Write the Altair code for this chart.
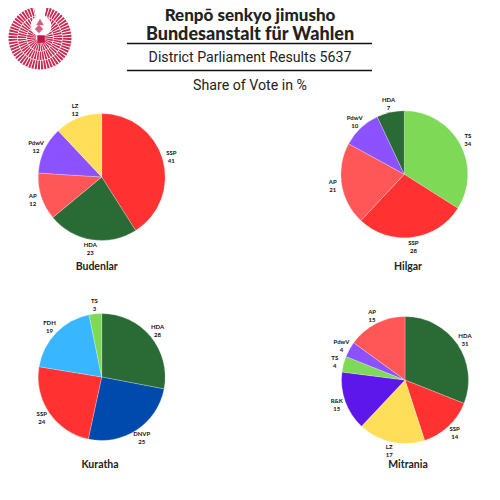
import altair as alt
import pandas as pd

PAD = 8
FONT = "Lato"
INK = "#222222"
CRIMSON = "#c92a52"

COLOURS = {"HDA": "#2a6b35", "SSP": "#ff3131", "AP": "#ff5757", "PdwV": "#8c52ff",
           "LZ": "#ffde59", "TS": "#7ed957", "DNVP": "#004aad", "FDH": "#38b6ff",
           "R&K": "#5e17eb"}

budenlar_parties = ["SSP", "HDA", "AP", "PdwV", "LZ"]
budenlar_shares = [41, 23, 12, 12, 12]
hilgar_parties = ["TS", "SSP", "AP", "PdwV", "HDA"]
hilgar_shares = [34, 28, 21, 10, 7]
kuratha_parties = ["HDA", "DNVP", "SSP", "FDH", "TS"]
kuratha_shares = [28, 25.4, 24.2, 19.2, 3.2]
mitrania_parties = ["HDA", "SSP", "LZ", "R&K", "TS", "PdwV", "AP"]
mitrania_shares = [31, 14, 17, 15, 4, 4, 15]

titles = ["Renpō senkyo jimusho", "Bundesanstalt für Wahlen"]
subtitle = "District Parliament Results 5637"
measure = "Share of Vote in %"


def text(s, x, y, size, weight="normal", font=FONT, color=INK):
    return alt.Chart(pd.DataFrame({"t": [s]})).mark_text(
        font=font, fontSize=size, fontWeight=weight, color=color,
        align="center", baseline="middle",
    ).encode(text="t:N", x=alt.value(x - PAD), y=alt.value(y - PAD))


def rule(x1, x2, y):
    return alt.Chart(pd.DataFrame({"a": [0]})).mark_rule(color="#111111", strokeWidth=1.7).encode(
        x=alt.value(x1 - PAD), x2=alt.value(x2 - PAD), y=alt.value(y - PAD))


def pie(name, parties, shares, cx, cy, tx, ty):
    df = pd.DataFrame({
        "party": parties,
        "share": shares,
        "order": range(len(parties)),
        "colour": [COLOURS[p] for p in parties],
        "label": [f"{p}\n{round(s)}" for p, s in zip(parties, shares)],
    })
    theta = alt.Theta("share:Q", stack=True, scale=alt.Scale(domain=[0, 100]))
    pos = dict(x=alt.value(cx - PAD), y=alt.value(cy - PAD))
    arcs = alt.Chart(df).mark_arc(radius=63.5, stroke="#ffffff", strokeWidth=0.25).encode(
        theta=theta, color=alt.Color("colour:N", scale=None), order=alt.Order("order:Q"), **pos)
    labels = alt.Chart(df).mark_text(
        radius=72.5, dy=-3.5, font=FONT, fontSize=6, fontWeight="bold", color="#111111",
        lineBreak="\n", lineHeight=8, align="center", baseline="middle",
    ).encode(theta=theta, text="label:N", order=alt.Order("order:Q"), **pos)
    return [arcs, labels, text(name, tx, ty, 10.5, "bold")]


def emblem(cx, cy):
    pos = dict(x=alt.value(cx - PAD), y=alt.value(cy - PAD))
    tau = 6.28318
    out = []
    for r2, r1, n, off in [(4, 13, 30, 0.0), (13.6, 22, 46, 0.5), (22.6, 31.5, 60, 0.0)]:
        w = pd.DataFrame({"s": [(i + off) * tau / n for i in range(n)]})
        w["e"] = w["s"] + tau / n * 0.66
        out.append(alt.Chart(w).mark_arc(radius=r1, radius2=r2, color=CRIMSON).encode(
            theta=alt.Theta("s:Q", scale=None), theta2="e:Q", **pos))
    out.append(alt.Chart(pd.DataFrame({"s": [-0.2], "e": [0.2]})).mark_arc(radius=33, color="#ffffff").encode(
        theta=alt.Theta("s:Q", scale=None), theta2="e:Q", **pos))

    def dot(shape, size, dx, dy, colour):
        return alt.Chart(pd.DataFrame({"a": [0]})).mark_point(
            filled=True, shape=shape, size=size, color=colour, opacity=1).encode(
            x=alt.value(cx + dx - PAD), y=alt.value(cy + dy - PAD))

    out += [
        dot("circle", 440, 1, -12, "#ffffff"),
        dot("diamond", 70, -1, -9, "#d6607f"),
        dot("triangle-up", 60, 0, -16, "#d6607f"),
        dot("square", 55, 1, 1, "#b8174a"),
    ]
    return out


layers = []
layers += emblem(40, 38)
layers += [text(titles[0], 250, 16.2, 17, 900), text(titles[1], 250, 34.5, 18, 900)]
layers += [rule(127, 372, 43.5), rule(127, 372, 70.5)]
layers += [text(subtitle, 250, 58, 14.2, font="Roboto"), text(measure, 250, 85.5, 14.2, font="Roboto")]
layers += pie("Budenlar", budenlar_parties, budenlar_shares, 101.7, 177, 96.7, 267)
layers += pie("Hilgar", hilgar_parties, hilgar_shares, 404.3, 174.3, 408, 267)
layers += pie("Kuratha", kuratha_parties, kuratha_shares, 101.7, 377, 100, 465)
layers += pie("Mitrania", mitrania_parties, mitrania_shares, 405, 380, 408, 465)

chart = alt.layer(*layers).properties(
    width=484, height=484, padding=0, autosize=alt.AutoSizeParams(type="none"), background="#ffffff",
).configure_view(stroke=None)

chart.save("out.html", embed_options={"renderer": "svg", "actions": False})
